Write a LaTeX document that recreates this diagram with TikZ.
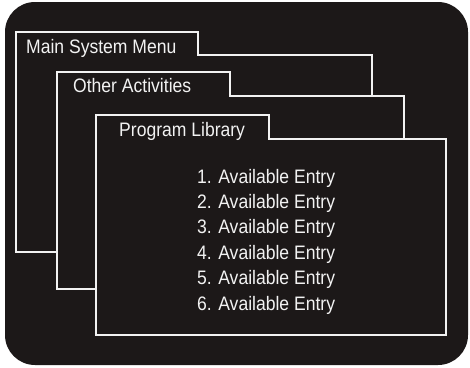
\documentclass[tikz,border=0pt]{standalone}
\usepackage{fontspec}
\setmainfont{Liberation Sans}[FakeStretch=0.9]
\usetikzlibrary{positioning}
\definecolor{screenblack}{HTML}{1C1818}
\definecolor{screenwhite}{HTML}{F2F2F2}

\begin{document}
\begin{tikzpicture}[
    x=1pt, y=-1pt,
    window/.style={draw=screenwhite, fill=screenblack, line width=2.2pt, line join=miter},
    caption/.style={anchor=base west, inner sep=0pt, text=screenwhite, font=\fontsize{19.5}{22}\selectfont},
]
    \useasboundingbox (0,0) rectangle (470,367);

    % Screen
    \fill[screenblack, rounded corners=30pt] (5,2) rectangle (468,365);

    % Main System Menu
    \draw[window] (16,32) -- (198,32) -- (198,55) -- (372,55) -- (372,252) -- (16,252) -- cycle;
    \node[caption] (mainmenu) at (26,53) {Main System Menu};

    % Other Activities
    \draw[window] (57,72) -- (230,72) -- (230,96) -- (404,96) -- (404,289) -- (57,289) -- cycle;
    \node[caption] (activities) at (73,92) {Other Activities};

    % Program Library
    \draw[window] (96,115) -- (269,115) -- (269,139) -- (446,139) -- (446,335) -- (96,335) -- cycle;
    \node[caption] (library) at (119,136) {Program Library};

    % Entries
    \foreach \i in {1,...,6}
        \node[caption] (entry\i) at (197,{183+25.4*(\i-1)}) {\i. Available Entry};

\end{tikzpicture}
\end{document}
